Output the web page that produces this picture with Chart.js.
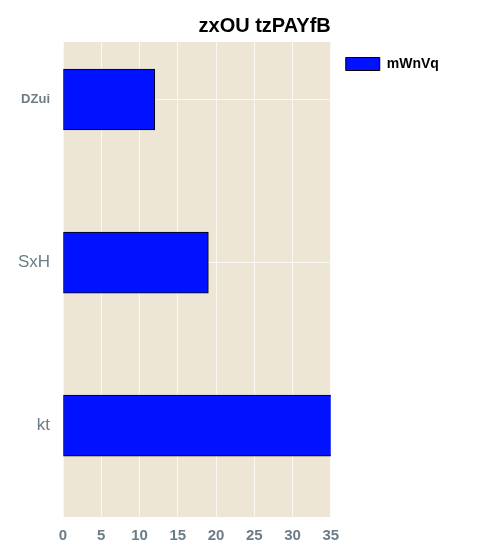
<!DOCTYPE html>
<html>
<head>
<meta charset="utf-8">
<script src="https://cdn.jsdelivr.net/npm/chart.js@4/dist/chart.umd.min.js"></script>
<style>
  html, body { margin: 0; padding: 0; background: #ffffff; }
  #wrap { width: 480px; height: 560px; }
</style>
</head>
<body>
<div id="wrap"><canvas id="c" width="480" height="560"></canvas></div>
<script>
const titleText = 'zxOU tzPAYfB';
const seriesName = 'mWnVq';
const categories = ['DZui', 'SxH', 'kt'];
const values = [12, 19, 36];
const xTicks = [0, 5, 10, 15, 20, 25, 30, 35];
const categoryPositions = [0, 1, 2];

const tickColor = '#6c7d87';
const fontFamily = '"Liberation Sans", Arial, sans-serif';

const plotBackground = {
  id: 'plotBackground',
  beforeDraw(chart) {
    const a = chart.chartArea;
    const ctx = chart.ctx;
    ctx.save();
    ctx.fillStyle = '#ede6d4';
    ctx.fillRect(a.left, a.top, a.right - a.left, a.bottom - a.top);
    ctx.restore();
  }
};

new Chart(document.getElementById('c'), {
  type: 'bar',
  data: {
    datasets: [{
      label: seriesName,
      data: categoryPositions.map((p, i) => ({ x: values[i], y: p })),
      backgroundColor: '#0012ff',
      borderColor: '#000000',
      borderWidth: 1,
      borderSkipped: false,
      barThickness: 61
    }]
  },
  options: {
    indexAxis: 'y',
    responsive: false,
    animation: false,
    devicePixelRatio: 1,
    layout: { padding: { left: 0, right: 39, top: 0, bottom: 0 } },
    scales: {
      x: {
        type: 'linear',
        min: 0,
        max: 35,
        offset: false,
        afterBuildTicks: (scale) => { scale.ticks = xTicks.map(v => ({ value: v })); },
        ticks: {
          color: tickColor,
          font: { family: fontFamily, size: 15, weight: 'bold' },
          padding: 10
        },
        grid: { color: 'rgba(255,255,255,0.7)', lineWidth: 1, drawTicks: false, offset: false },
        border: { display: false },
        afterFit: (scale) => { scale.height = 43; }
      },
      y: {
        type: 'linear',
        reverse: true,
        min: -0.353,
        max: 2.561,
        offset: false,
        afterBuildTicks: (scale) => { scale.ticks = categoryPositions.map(v => ({ value: v })); },
        ticks: {
          color: tickColor,
          padding: 13,
          callback: (v) => categories[v] !== undefined ? categories[v] : '',
          font: (ctx) => (ctx.tick && ctx.tick.value === 0)
            ? { family: fontFamily, size: 13, weight: 'bold' }
            : { family: fontFamily, size: 17, weight: 'normal' }
        },
        grid: { color: 'rgba(255,255,255,0.7)', lineWidth: 1, drawTicks: false, offset: false },
        border: { display: false },
        afterFit: (scale) => { scale.width = 63; }
      }
    },
    plugins: {
      title: {
        display: true,
        text: titleText,
        align: 'end',
        fullSize: false,
        color: '#000000',
        font: { family: fontFamily, size: 20, weight: 'bold' },
        padding: { top: 14, bottom: 4 }
      },
      legend: {
        display: true,
        position: 'right',
        align: 'start',
        fullSize: false,
        labels: {
          boxWidth: 34,
          boxHeight: 13,
          padding: 15,
          color: '#000000',
          font: { family: fontFamily, size: 14, weight: 'bold' }
        }
      },
      tooltip: { enabled: false }
    }
  },
  plugins: [plotBackground]
});
</script>
</body>
</html>
